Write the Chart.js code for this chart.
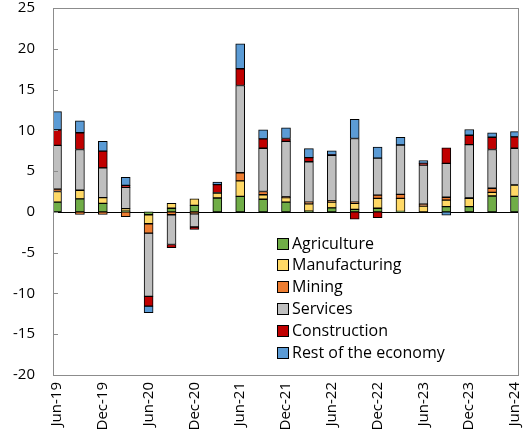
<!DOCTYPE html>
<html>
<head>
<meta charset="utf-8">
<script src="https://cdn.jsdelivr.net/npm/chart.js@4/dist/chart.umd.min.js"></script>
<style>
  html, body { margin: 0; padding: 0; background: #fff; }
  canvas { display: block; }
</style>
</head>
<body>
<canvas id="chart" width="526" height="440"></canvas>
<script>
// Quarterly contributions to growth by industry (percentage points)
const quarters = ['Jun-19','Sep-19','Dec-19','Mar-20','Jun-20','Sep-20','Dec-20','Mar-21','Jun-21','Sep-21','Dec-21',
                  'Mar-22','Jun-22','Sep-22','Dec-22','Mar-23','Jun-23','Sep-23','Dec-23','Mar-24','Jun-24'];

const agriculture   = [1.2, 1.6, 1.05, 0.1, -0.35, 0.45, 0.8, 1.7, 1.9, 1.55, 1.2, 0.1, 0.5, 0.3, 0.45, 0.05, 0, 0.65, 0.65, 1.95, 1.9];
const manufacturing = [1.3, 1.05, 0.7, 0.3, -1.1, 0.6, 0.8, 0.6, 1.9, 0.55, 0.55, 0.9, 0.7, 0.75, 1.2, 1.6, 0.7, 0.8, 1.0, 0.45, 1.4];
const mining        = [0.3, -0.3, -0.3, -0.6, -1.15, -0.35, -0.25, 0, 1.0, 0.4, 0.1, 0.2, 0.15, 0.15, 0.4, 0.5, 0.25, 0.35, 0.05, 0.5, 0];
const services      = [5.35, 5.0, 3.65, 2.6, -7.75, -3.65, -1.6, 0.05, 10.7, 5.3, 6.8, 4.95, 5.6, 7.8, 4.55, 6.05, 4.8, 4.15, 6.55, 4.75, 4.5];
const construction  = [1.9, 2.05, 2.05, 0.25, -1.2, -0.4, -0.3, 1.0, 2.05, 1.15, 0.35, 0.5, 0.05, -0.9, -0.7, 0, 0.2, 1.9, 1.15, 1.5, 1.4];
const restOfEconomy = [2.25, 1.45, 1.2, 1.0, -0.8, 0, 0, 0.3, 3.05, 1.1, 1.3, 1.1, 0.5, 2.35, 1.35, 0.95, 0.35, -0.4, 0.7, 0.55, 0.65];

const seriesNames = ['Agriculture', 'Manufacturing', 'Mining', 'Services', 'Construction', 'Rest of the economy'];
const seriesData  = [agriculture, manufacturing, mining, services, construction, restOfEconomy];
const seriesColors = ['#70AD47', '#FFD966', '#ED7D31', '#BFBFBF', '#C00000', '#5B9BD5'];

const yTicks = [-20, -15, -10, -5, 0, 5, 10, 15, 20, 25];
const xTickIndices = quarters.map((q, i) => i).filter(i => i % 2 === 0);

const FONT = '"Open Sans", "Noto Sans", sans-serif';
const FRAME = '#8C8C8C';

const datasets = seriesNames.map((name, s) => ({
  label: name,
  data: seriesData[s].map((v, i) => ({ x: i, y: v })),
  backgroundColor: seriesColors[s],
  borderColor: '#000',
  borderWidth: 1,
  borderSkipped: false,
  barThickness: 9
}));

// Fixed axis sizes; label overhang padding is not reserved
function fixSize(prop, size) {
  return scale => {
    scale[prop] = size;
    scale.paddingLeft = scale.paddingRight = scale.paddingTop = scale.paddingBottom = 0;
  };
}

// Plot frame, inward tick marks and the zero line
const framePlugin = {
  id: 'frame',
  beforeDatasetsDraw(chart) {
    const { ctx, chartArea: a, scales: { y } } = chart;
    ctx.save();
    ctx.strokeStyle = '#000';
    ctx.lineWidth = 1;
    const z = Math.round(y.getPixelForValue(0)) + 0.5;
    ctx.beginPath();
    ctx.moveTo(a.left, z);
    ctx.lineTo(a.right, z);
    ctx.stroke();
    ctx.restore();
  },
  afterDraw(chart) {
    const { ctx, chartArea: a, scales: { y } } = chart;
    ctx.save();
    ctx.strokeStyle = FRAME;
    ctx.lineWidth = 1;
    ctx.strokeRect(Math.round(a.left) + 0.5, Math.round(a.top) + 0.5,
                   Math.round(a.right - a.left) - 1, Math.round(a.bottom - a.top));
    ctx.beginPath();
    yTicks.forEach(v => {
      const py = Math.round(y.getPixelForValue(v)) + 0.5;
      ctx.moveTo(a.left, py);
      ctx.lineTo(a.left + 5, py);
    });
    ctx.stroke();
    ctx.restore();
  }
};

// Legend drawn inside the plot area
const legendPlugin = {
  id: 'insideLegend',
  afterDraw(chart) {
    const { ctx, chartArea: a } = chart;
    const x0 = a.left + 224;
    const y0 = 243;
    const rowH = 21.8;
    const box = 11;
    ctx.save();
    ctx.font = '16px ' + FONT;
    ctx.textBaseline = 'middle';
    ctx.textAlign = 'left';
    chart.data.datasets.forEach((ds, i) => {
      const cy = y0 + i * rowH;
      const by = Math.round(cy - box / 2) + 0.5;
      ctx.fillStyle = ds.backgroundColor;
      ctx.fillRect(x0 + 0.5, by, box, box);
      ctx.strokeStyle = '#000';
      ctx.lineWidth = 1;
      ctx.strokeRect(x0 + 0.5, by, box, box);
      ctx.fillStyle = '#000';
      ctx.fillText(ds.label, x0 + 15, cy + 1);
    });
    ctx.restore();
  }
};

new Chart(document.getElementById('chart'), {
  type: 'bar',
  data: { datasets },
  options: {
    responsive: false,
    animation: false,
    layout: { padding: { top: 8, right: 7, left: 0, bottom: 0 } },
    plugins: { legend: { display: false }, tooltip: { enabled: false } },
    scales: {
      x: {
        type: 'linear',
        stacked: true,
        offset: false,
        min: -0.175,
        max: quarters.length - 1 + 0.175,
        afterBuildTicks: scale => { scale.ticks = xTickIndices.map(v => ({ value: v })); },
        afterFit: fixSize('height', 65),
        grid: { display: false, drawTicks: false, offset: false },
        border: { display: false },
        ticks: {
          autoSkip: false,
          minRotation: 90,
          maxRotation: 90,
          padding: 7,
          color: '#000',
          font: { family: FONT, size: 15 },
          callback: v => quarters[v]
        }
      },
      y: {
        stacked: true,
        min: -20,
        max: 25,
        afterBuildTicks: scale => { scale.ticks = yTicks.map(v => ({ value: v })); },
        afterFit: fixSize('width', 53),
        grid: { display: false, drawTicks: false },
        border: { display: false },
        ticks: {
          padding: 18,
          color: '#000',
          font: { family: FONT, size: 15 }
        }
      }
    }
  },
  plugins: [framePlugin, legendPlugin]
});
</script>
</body>
</html>
